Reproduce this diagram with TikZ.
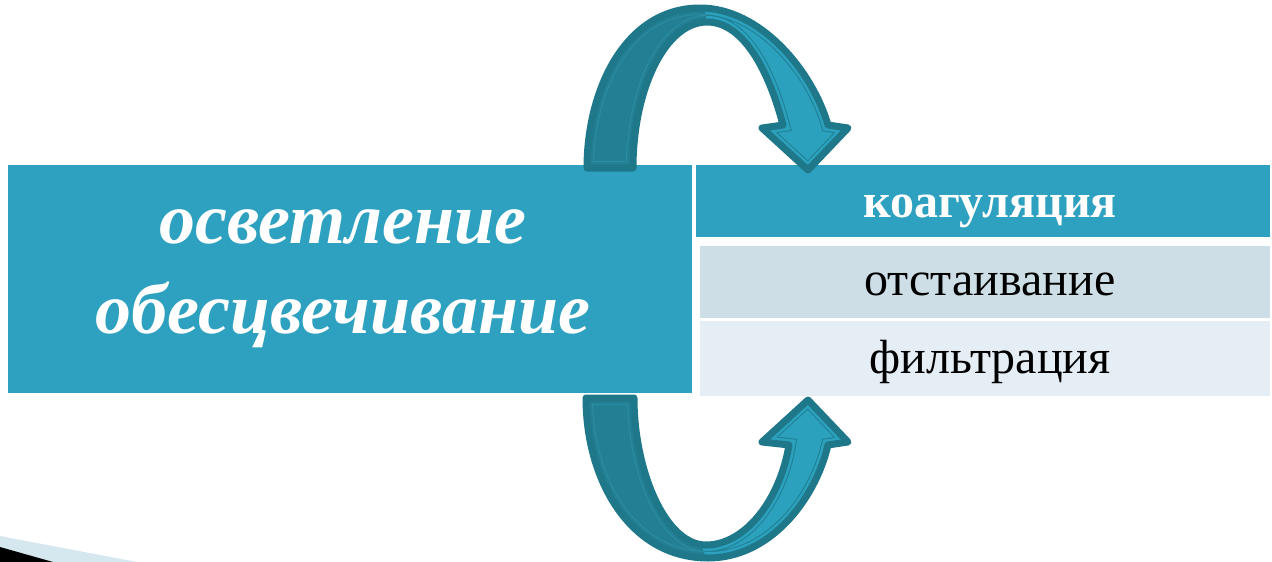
\documentclass[tikz,border=0pt]{standalone}
\usepackage{fontspec}
\setmainfont{Liberation Serif}
\definecolor{boxteal}{HTML}{2DA1BF}
\definecolor{rowmid}{HTML}{CDDEE6}
\definecolor{rowlight}{HTML}{E6EEF5}
\definecolor{armdark}{HTML}{237F93}
\definecolor{armdarkline}{HTML}{2C8EA5}
\definecolor{armlight}{HTML}{2CA1BD}
\definecolor{armlightline}{HTML}{1F7F94}
\definecolor{armborder}{HTML}{1F7889}
\definecolor{wedgeblue}{HTML}{D5E8F0}
\tikzset{
  bigtext/.style={text=white, font=\fontsize{72}{80}\selectfont\bfseries\itshape, anchor=base, inner sep=0pt},
  headtext/.style={text=white, font=\fontsize{48}{54}\selectfont\bfseries, anchor=base, inner sep=0pt},
  rowtext/.style={text=black, font=\fontsize{48}{54}\selectfont, anchor=base, inner sep=0pt},
  armborderline/.style={draw=armborder, line width=7pt, line join=round},
}
\def\toparrow{(587,168) .. controls (587,90) and (625,8) .. (700,8) .. controls (760,8) and (812,70) .. (828,125) -- (848,128) -- (808,170) -- (762,128) -- (783,125) .. controls (770,75) and (745,22) .. (707,22) .. controls (665,22) and (633,90) .. (633,168) -- cycle}
\def\botarrow{(586,398) .. controls (586,480) and (630,558) .. (708,558) .. controls (770,558) and (815,500) .. (828,445) -- (848,442) -- (808,400) -- (762,442) -- (789,445) .. controls (780,500) and (745,545) .. (706,545) .. controls (665,545) and (634,470) .. (634,398) -- cycle}
\begin{document}
\begin{tikzpicture}[x=1pt,y=-1pt]
\useasboundingbox (0,0) rectangle (1272,562);
% bottom-left decoration
\fill[wedgeblue] (0,536) -- (137,562) -- (0,562) -- cycle;
\fill[black] (0,547) -- (53,562) -- (0,562) -- cycle;
% boxes
\fill[boxteal] (8,165) rectangle (692,393);
\fill[boxteal] (696,165) rectangle (1270,237);
\fill[rowmid] (700,246) rectangle (1270,318);
\fill[rowlight] (700,321) rectangle (1270,396);
% texts
\node[bigtext] (t1) at (343,243) {осветление};
\node[bigtext] (t2) at (343,333) {обесцвечивание};
\node[headtext] (h1) at (990,217) {коагуляция};
\node[rowtext] (r1) at (990,295) {отстаивание};
\node[rowtext] (r2) at (990,373) {фильтрация};
% top arrow
\begin{scope}
  \clip \toparrow;
  \clip (540,-20) -- (697,-20) -- (713,45) -- (713,200) -- (540,200) -- cycle;
  \fill[armdark] (540,-20) rectangle (900,200);
  \draw[armdarkline, line width=14pt] \toparrow;
  \draw[armdark, line width=12pt] \toparrow;
\end{scope}
\begin{scope}
  \clip \toparrow;
  \clip (697,-20) -- (900,-20) -- (900,200) -- (713,200) -- (713,45) -- cycle;
  \fill[armlight] (540,-20) rectangle (900,200);
  \draw[armlightline, line width=14pt] \toparrow;
  \draw[armlight, line width=12pt] \toparrow;
\end{scope}
\draw[armborderline] \toparrow;
% bottom arrow
\begin{scope}
  \clip \botarrow;
  \clip (540,380) -- (698,380) -- (698,535) -- (714,580) -- (540,580) -- cycle;
  \fill[armdark] (540,380) rectangle (900,580);
  \draw[armdarkline, line width=14pt] \botarrow;
  \draw[armdark, line width=12pt] \botarrow;
\end{scope}
\begin{scope}
  \clip \botarrow;
  \clip (698,380) -- (900,380) -- (900,580) -- (714,580) -- (698,535) -- cycle;
  \fill[armlight] (540,380) rectangle (900,580);
  \draw[armlightline, line width=14pt] \botarrow;
  \draw[armlight, line width=12pt] \botarrow;
\end{scope}
\draw[armborderline] \botarrow;
\end{tikzpicture}
\end{document}
